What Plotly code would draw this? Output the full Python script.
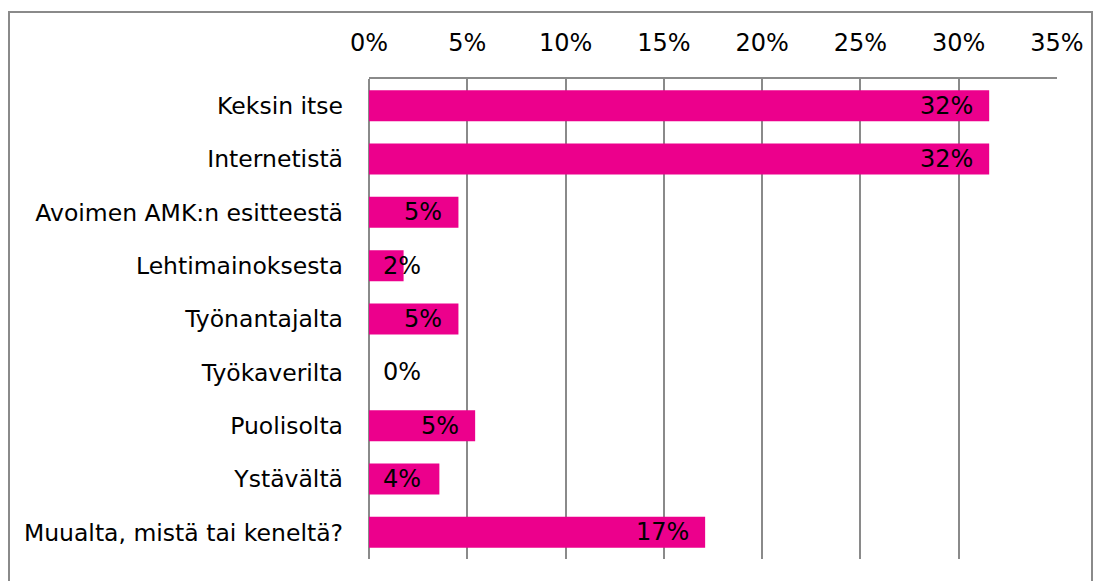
import plotly.graph_objects as go

categories = ["Keksin itse", "Internetistä", "Avoimen AMK:n esitteestä", "Lehtimainoksesta",
              "Työnantajalta", "Työkaverilta", "Puolisolta", "Ystävältä",
              "Muualta, mistä tai keneltä?"]
values = [31.55, 31.55, 4.55, 1.76, 4.55, 0.0, 5.4, 3.58, 17.1]
tick_vals = [0, 5, 10, 15, 20, 25, 30, 35]
tick_text = ["0%", "5%", "10%", "15%", "20%", "25%", "30%", "35%"]

W, H = 1101, 581
ML, MR, MT, MB = 361, 52, 71, 30
pw, ph = W - ML - MR, H - MT - MB
xmax = 35
px_per_unit = pw / xmax

FONT = "DejaVu Sans"
GRID = "#8a8a8a"
BAR = "#EC008C"
FS = 24

fig = go.Figure()
fig.add_trace(go.Bar(
    y=categories, x=values, orientation="h",
    marker=dict(color=BAR, line=dict(width=0)),
    hoverinfo="skip",
))

annotations = []
for c, v in zip(categories, values):
    label = f"{round(v):d}%"
    text_w = FS * (0.636 * (len(label) - 1) + 1.0)
    inside_room = v * px_per_unit - 17 - text_w
    if inside_room >= 15:
        annotations.append(dict(x=v, y=c, xref="x", yref="y", text=label, showarrow=False,
                                xanchor="right", xshift=-14, font=dict(family=FONT, size=FS, color="black")))
    else:
        annotations.append(dict(x=0, y=c, xref="x", yref="y", text=label, showarrow=False,
                                xanchor="left", xshift=12, font=dict(family=FONT, size=FS, color="black")))

# outer border around the chart area (in paper coordinates)
bx0 = (1 - ML) / pw
bx1 = (1084 - ML) / pw
by1 = 1 + (MT - 4) / ph
by0 = -(MB + 10) / ph

fig.update_layout(
    width=W, height=H,
    margin=dict(l=ML, r=MR, t=MT, b=MB, pad=0),
    paper_bgcolor="white", plot_bgcolor="white",
    bargap=0.42,
    showlegend=False,
    font=dict(family=FONT, size=FS, color="black"),
    annotations=annotations,
    shapes=[dict(type="rect", xref="paper", yref="paper", x0=bx0, x1=bx1, y0=by0, y1=by1,
                 line=dict(color="#8a8a8a", width=2), fillcolor="rgba(0,0,0,0)", layer="below")],
    xaxis=dict(
        side="top", range=[0, xmax], tickvals=tick_vals, ticktext=tick_text,
        showgrid=True, gridcolor=GRID, gridwidth=2,
        showline=True, linecolor=GRID, linewidth=2, mirror=False,
        zeroline=True, zerolinecolor=GRID, zerolinewidth=2,
        ticks="", ticklabelstandoff=16,
        tickfont=dict(family=FONT, size=FS, color="black"),
        fixedrange=True,
    ),
    yaxis=dict(
        autorange="reversed", showgrid=False, showline=False, zeroline=False,
        ticks="", ticklabelstandoff=25,
        tickfont=dict(family=FONT, size=23.5, color="black"),
        fixedrange=True,
    ),
)

fig.write_html("out.html")
